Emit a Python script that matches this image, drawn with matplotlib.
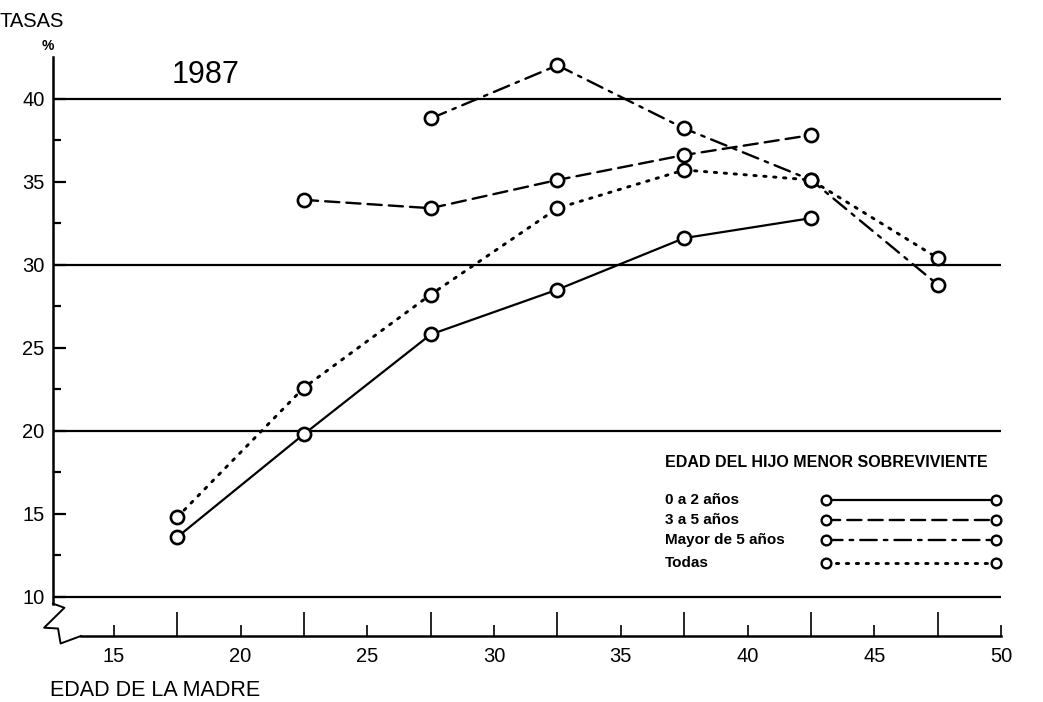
import matplotlib
matplotlib.use("Agg")
import matplotlib.pyplot as plt

plt.rcParams['font.family'] = ['Liberation Sans', 'DejaVu Sans']

# edades (punto medio del grupo quinquenal)
edades = [17.5, 22.5, 27.5, 32.5, 37.5, 42.5, 47.5]

# tasas por edad del hijo menor sobreviviente (None = sin dato)
tasa_0a2 = [13.6, 19.8, 25.8, 28.5, 31.6, 32.8, None]
tasa_3a5 = [None, 33.9, 33.4, 35.1, 36.6, 37.8, None]
tasa_mayor5 = [None, None, 38.8, 42.0, 38.2, 35.1, 28.8]
tasa_todas = [14.8, 22.6, 28.2, 33.4, 35.7, 35.1, 30.4]

etiquetas = ['0 a 2 años', '3 a 5 años', 'Mayor de 5 años', 'Todas']
estilos = ['-', (0, (6, 3)), (0, (7, 3, 1.5, 3)), (0, (0.8, 2.6))]
grosores = [1.6, 1.7, 1.7, 2.1]
series = [tasa_0a2, tasa_3a5, tasa_mayor5, tasa_todas]

y_ticks = [10, 15, 20, 25, 30, 35, 40]
x_ticks = [15, 20, 25, 30, 35, 40, 45, 50]

fig = plt.figure(figsize=(10.43, 7.02), dpi=100)
ax = fig.add_axes([0.0508, 0.094, 0.909, 0.8248])
ax.set_xlim(12.6, 50)
ax.set_ylim(7.65, 42.5)

# lineas horizontales gruesas
for y in [10, 20, 30, 40]:
    ax.axhline(y, color='black', lw=1.6, zorder=1)

for vals, ls, lw in zip(series, estilos, grosores):
    xs = [x for x, v in zip(edades, vals) if v is not None]
    ys = [v for v in vals if v is not None]
    ax.plot(xs, ys, color='black', lw=lw, linestyle=ls, marker='o',
            markersize=9.5, markerfacecolor='white', markeredgewidth=1.9,
            dash_capstyle='round', zorder=3)

# ejes
for s in ['top', 'right']:
    ax.spines[s].set_visible(False)
ax.spines['left'].set_bounds(9.6, 42.5)
ax.spines['bottom'].set_bounds(13.7, 50)
ax.spines['left'].set_linewidth(1.8)
ax.spines['bottom'].set_linewidth(1.8)

# corte del eje (zigzag)
zx = [12.6, 13.05, 12.25, 12.8, 12.9, 13.7]
zy = [9.6, 9.35, 8.15, 8.1, 7.2, 7.65]
ax.plot(zx, zy, color='black', lw=1.4, clip_on=False)

ax.set_yticks(y_ticks)
ax.set_yticks([12.5, 17.5, 22.5, 27.5, 32.5, 37.5], minor=True)
ax.set_xticks(x_ticks)
ax.set_xticks(edades, minor=True)
ax.tick_params(axis='y', which='major', direction='in', length=9, width=1.6,
               labelsize=14.5, pad=6)
ax.tick_params(axis='y', which='minor', direction='in', length=6, width=1.6)
ax.tick_params(axis='x', which='major', direction='in', length=8, width=1.2,
               labelsize=14.5, pad=8)
ax.tick_params(axis='x', which='minor', direction='in', length=17, width=1.2)

fig.text(0.0, 0.970, 'TASAS', fontsize=14.5, ha='left', va='center')
fig.text(0.040, 0.934, '%', fontsize=10, fontweight='bold', ha='left', va='center')
fig.text(0.165, 0.893, '1987', fontsize=22, ha='left', va='center')
fig.text(0.048, 0.017, 'EDAD DE LA MADRE', fontsize=15.5, ha='left',
         va='center')

# leyenda dibujada a mano
ax.text(0.645, 0.3005, 'EDAD DEL HIJO MENOR SOBREVIVIENTE', transform=ax.transAxes,
        fontsize=11.5, fontweight='bold', ha='left', va='center')
ley_y = [0.235, 0.200, 0.166, 0.126]
for lab, ls, lw, yy in zip(etiquetas, estilos, grosores, ley_y):
    ax.text(0.645, yy, lab, transform=ax.transAxes, fontsize=11,
            fontweight='bold', ha='left', va='center')
    ax.plot([0.815, 0.995], [yy, yy], transform=ax.transAxes, color='black',
            lw=lw, linestyle=ls, marker='o', markersize=7,
            markerfacecolor='white', markeredgewidth=1.7,
            dash_capstyle='round', clip_on=False)

fig.savefig('out.png', dpi=100)
